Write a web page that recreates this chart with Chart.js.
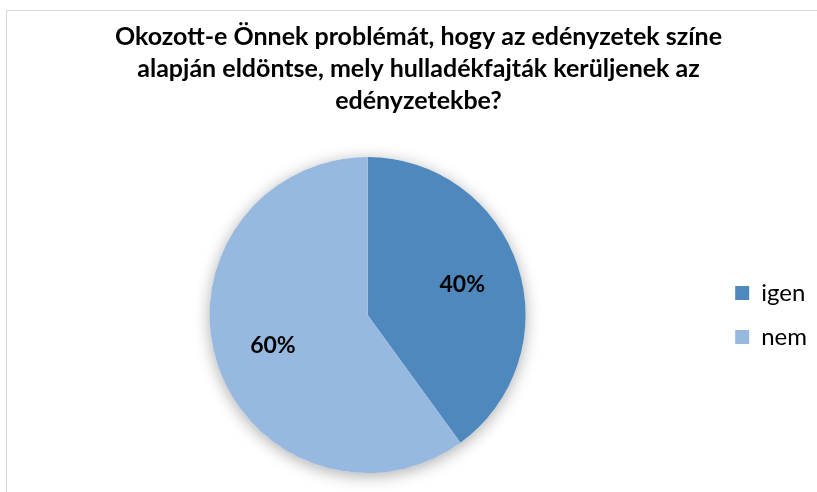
<!DOCTYPE html>
<html>
<head>
<meta charset="utf-8">
<script src="https://cdn.jsdelivr.net/npm/chart.js@4"></script>
<style>
  html, body { margin: 0; padding: 0; background: #fff; }
  #wrap { position: relative; width: 817px; height: 492px; overflow: hidden; }
  #frame { position: absolute; left: 6px; top: 10px; width: 840px; height: 520px; border: 1px solid #d9d9d9; box-sizing: border-box; }
  canvas { position: absolute; left: 0; top: 0; }
</style>
</head>
<body>
<div id="wrap">
  <div id="frame"></div>
  <canvas id="c" width="817" height="492"></canvas>
</div>
<script>
const titleLines = [
  "Okozott-e Önnek problémát, hogy az edényzetek színe",
  "alapján eldöntse, mely hulladékfajták kerüljenek az",
  "edényzetekbe?"
];
const categories = ["igen", "nem"];
const values = [40, 60];
const sliceColors = ["#4F88BC", "#97B8DF"];

const shadowPlugin = {
  id: "pieShadow",
  beforeDatasetsDraw(chart) {
    const meta = chart.getDatasetMeta(0);
    if (!meta.data.length) return;
    const a = meta.data[0];
    const ctx = chart.ctx;
    ctx.save();
    ctx.shadowColor = "rgba(0,0,0,0.32)";
    ctx.shadowBlur = 16;
    ctx.shadowOffsetX = 0;
    ctx.shadowOffsetY = 3;
    ctx.beginPath();
    ctx.arc(a.x, a.y, a.outerRadius, 0, Math.PI * 2);
    ctx.fillStyle = "#ffffff";
    ctx.fill();
    ctx.restore();
  }
};

const labelPlugin = {
  id: "pctLabels",
  afterDatasetsDraw(chart) {
    const ctx = chart.ctx;
    const meta = chart.getDatasetMeta(0);
    const data = chart.data.datasets[0].data;
    const total = data.reduce((s, v) => s + v, 0);
    ctx.save();
    ctx.font = "bold 23px Lato, 'Open Sans', sans-serif";
    ctx.fillStyle = "#000";
    ctx.textAlign = "center";
    ctx.textBaseline = "middle";
    meta.data.forEach((arc, i) => {
      const mid = (arc.startAngle + arc.endAngle) / 2;
      const r = arc.outerRadius * 0.63;
      const x = arc.x + Math.cos(mid) * r;
      const y = arc.y + Math.sin(mid) * r;
      ctx.fillText(Math.round(data[i] / total * 100) + "%", x, y);
    });
    ctx.restore();
  }
};

new Chart(document.getElementById("c"), {
  type: "pie",
  data: {
    labels: categories,
    datasets: [{
      data: values,
      backgroundColor: sliceColors,
      borderWidth: 0
    }]
  },
  options: {
    responsive: false,
    animation: false,
    layout: { padding: { left: 20, right: 0, top: 0, bottom: 19 } },
    plugins: {
      tooltip: { enabled: false },
      title: {
        display: true,
        text: titleLines,
        color: "#000",
        font: { family: "Lato, 'Open Sans', sans-serif", size: 25, weight: "bold", lineHeight: 1.28 },
        padding: { top: 21, bottom: 40 }
      },
      legend: {
        position: "right",
        fullSize: false,
        labels: {
          color: "#000",
          boxWidth: 14,
          boxHeight: 14,
          padding: 20,
          font: { family: "Lato, 'Open Sans', sans-serif", size: 24 }
        }
      }
    }
  },
  plugins: [shadowPlugin, labelPlugin]
});
</script>
</body>
</html>
